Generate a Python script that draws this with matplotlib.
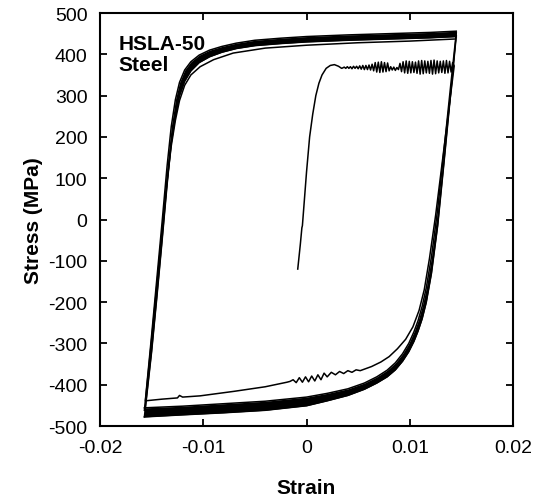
import matplotlib
matplotlib.use('Agg')
import matplotlib.pyplot as plt

plt.rcParams['font.family'] = ['Liberation Sans', 'DejaVu Sans']
plt.rcParams['axes.unicode_minus'] = False

# tick labels
x_ticks = [-0.02, -0.01, 0, 0.01, 0.02]
x_tick_labels = ['-0.02', '-0.01', '0', '0.01', '0.02']
y_ticks = [-500, -400, -300, -200, -100, 0, 100, 200, 300, 400, 500]
y_tick_labels = ['-500', '-400', '-300', '-200', '-100', '0', '100', '200', '300', '400', '500']

# initial monotonic loading up to the yield plateau
load_strain = [-0.00085, -0.0006, -0.00045, -0.0004, -0.0002, 0.0, 0.0003, 0.0006,
               0.0009, 0.0012, 0.0015, 0.0019, 0.0023, 0.0027, 0.0031, 0.0034]
load_stress = [-120, -60, -20, -15, 50, 115, 200, 255,
               300, 330, 350, 366, 373, 375, 371, 366]

# serrated yield plateau
plateau_strain = [0.00350, 0.00365, 0.00380, 0.00395, 0.00410, 0.00425, 0.00440, 0.00455,
                  0.00470, 0.00485, 0.00500, 0.00515, 0.00530, 0.00545, 0.00560, 0.00575,
                  0.00590, 0.00605, 0.00620, 0.00635, 0.00650, 0.00665, 0.00680, 0.00695,
                  0.00710, 0.00725, 0.00740, 0.00755, 0.00770, 0.00785, 0.00800, 0.00815,
                  0.00830, 0.00845, 0.00860, 0.00875, 0.00890, 0.00905, 0.00920, 0.00935,
                  0.00950, 0.00965, 0.00980, 0.00995, 0.01010, 0.01025, 0.01040, 0.01055,
                  0.01070, 0.01085, 0.01100, 0.01115, 0.01130, 0.01145, 0.01160, 0.01175,
                  0.01190, 0.01205, 0.01220, 0.01235, 0.01250, 0.01265, 0.01280, 0.01295,
                  0.01310, 0.01325, 0.01340, 0.01355, 0.01370, 0.01385, 0.01400, 0.01415]
plateau_stress = [367, 369, 366, 370, 366, 370, 365, 371, 366, 371, 365,
                  372, 364, 373, 363, 373, 363, 374, 362,
                  376, 360, 380, 357, 381, 356, 382, 357, 380, 358, 379, 360,
                  370, 362, 369, 361, 368, 363,
                  378, 358, 382, 355, 384, 354, 383, 355, 382, 356, 381, 354, 384, 352,
                  385, 353, 384, 355, 383, 354, 385, 352, 386, 353, 384, 355, 383, 356,
                  384, 354, 385, 355, 383, 357, 380]

# first reversal (compression branch of cycle 1)
rev1_strain = [0.0143, 0.0137, 0.0131, 0.0125, 0.0119, 0.0114, 0.0109, 0.0103, 0.0096, 0.0088,
               0.0080, 0.0072, 0.0063, 0.0052,
               0.0048, 0.0044, 0.0040, 0.0036, 0.0032, 0.0028, 0.0024, 0.0020, 0.0017,
               0.0014, 0.0011, 0.0008, 0.0005, 0.0002, -0.0001, -0.0004, -0.0007,
               -0.0010, -0.0013, -0.0016, -0.0019,
               -0.0040, -0.0070, -0.0103, -0.0120, -0.0123, -0.0125, -0.0140, -0.0156]
rev1_stress = [372, 250, 130, 10, -95, -170, -220, -260, -290, -313,
               -332, -345, -356, -366,
               -364, -370, -366, -373, -368, -376, -370, -381, -372,
               -388, -376, -391, -379, -393, -381, -394, -383,
               -395, -388, -392, -394,
               -405, -416, -427, -430, -426, -432, -435, -439]

# second reversal (tension branch of cycle 1)
rev2_strain = [-0.0156, -0.0150, -0.0145, -0.0140, -0.0135, -0.0131, -0.0127, -0.0123,
               -0.0118, -0.0112, -0.0103, -0.0090, -0.0071, -0.0040, 0.0, 0.0050, 0.0100, 0.0143]
rev2_stress = [-439, -290, -160, -30, 95, 178, 240, 288,
               325, 350, 370, 387, 403, 415, 422, 428, 432, 437]

# stabilised cycles: tension-going branch (upper band edges)
up_strain = [-0.0157, -0.0150, -0.0145, -0.0140, -0.0135, -0.0131, -0.0127, -0.0123, -0.0118,
             -0.0112, -0.0104, -0.0094, -0.0082, -0.0068, -0.0050, -0.0025, 0.0, 0.0040,
             0.0080, 0.0120, 0.0145]
up_outer = [-462, -280, -145, -10, 130, 225, 290, 332, 362,
            382, 398, 410, 419, 427, 434, 439, 443, 447,
            450, 453, 456]
up_inner = [-478, -320, -190, -55, 85, 185, 250, 300, 335,
            360, 380, 394, 405, 414, 421, 426, 430, 434,
            437, 440, 443]

# stabilised cycles: compression-going branch (lower band edges)
down_strain = [0.0145, 0.0139, 0.0133, 0.0127, 0.0121, 0.0116, 0.0112, 0.0108, 0.0104, 0.0099,
               0.0093, 0.0086, 0.0078, 0.0068, 0.0056, 0.0040, 0.0020, 0.0, -0.0040, -0.0080,
               -0.0120, -0.0157]
down_inner = [452, 310, 165, 25, -90, -165, -210, -245, -272, -300,
              -325, -347, -365, -381, -396, -410, -421, -430, -440, -446,
              -452, -456]
down_outer = [445, 290, 135, -15, -130, -200, -240, -270, -295, -320,
              -343, -364, -381, -396, -411, -426, -439, -451, -462, -468,
              -473, -478]

fig = plt.figure(figsize=(5.33, 5.02), dpi=100)
ax = fig.add_axes([0.1876, 0.1494, 0.775, 0.8227])

# thick band of the repeated cycles
ax.fill_between(up_strain, up_outer, up_inner, color='black', lw=0)
ax.plot(up_strain, up_outer, color='black', lw=1.1)
ax.plot(up_strain, up_inner, color='black', lw=1.1)
ax.fill_between(down_strain, down_outer, down_inner, color='black', lw=0)
ax.plot(down_strain, down_outer, color='black', lw=1.1)
ax.plot(down_strain, down_inner, color='black', lw=1.1)

# first cycle, thin line
first_strain = load_strain + plateau_strain + rev1_strain + rev2_strain
first_stress = load_stress + plateau_stress + rev1_stress + rev2_stress
ax.plot(first_strain, first_stress, color='black', lw=1.1)

ax.set_xlim(-0.02, 0.02)
ax.set_ylim(-500, 500)
ax.set_xticks(x_ticks)
ax.set_xticklabels(x_tick_labels)
ax.set_yticks(y_ticks)
ax.set_yticklabels(y_tick_labels)
ax.tick_params(direction='in', top=True, right=True, length=5, width=1.3,
               labelsize=14, pad=9)
for s in ax.spines.values():
    s.set_linewidth(1.5)

ax.set_xlabel('Strain', fontsize=15, fontweight='bold', labelpad=16)
ax.set_ylabel('Stress (MPa)', fontsize=15, fontweight='bold', labelpad=4)

ax.text(0.044, 0.95, 'HSLA-50\nSteel', transform=ax.transAxes, fontsize=15,
        fontweight='bold', va='top', ha='left', linespacing=1.15)

fig.savefig('out.png', dpi=100)
